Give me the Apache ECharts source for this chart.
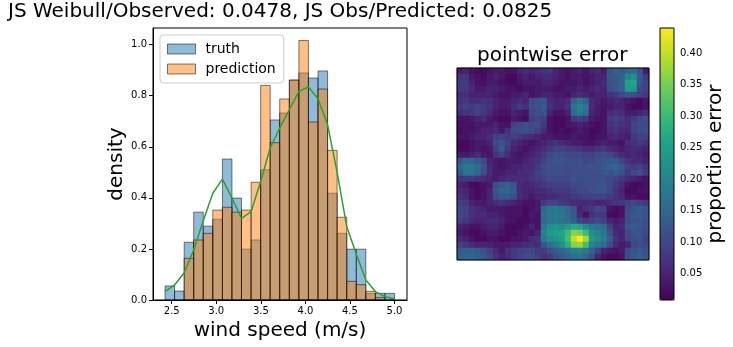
<!DOCTYPE html>
<html>
<head>
<meta charset="utf-8">
<script src="https://cdn.jsdelivr.net/npm/echarts@6/dist/echarts.min.js"></script>
<style>
html, body { margin: 0; padding: 0; background: #fff; }
#main { width: 733px; height: 347px; }
</style>
</head>
<body>
<div id="main"></div>
<script>
// histogram bin edges (m/s)
var binEdges = [2.425, 2.532, 2.640, 2.747, 2.854, 2.961, 3.069, 3.176, 3.283, 3.391, 3.498, 3.605,
    3.712, 3.820, 3.927, 4.034, 4.142, 4.249, 4.356, 4.464, 4.571, 4.678, 4.785, 4.893, 5.000];
// bar heights (density)
var truthDensity = [0.055, 0.035, 0.226, 0.344, 0.289, 0.316, 0.552, 0.399, 0.199, 0.235, 0.510, 0.705,
    0.732, 0.861, 0.889, 0.869, 0.897, 0.418, 0.261, 0.199, 0.199, 0.026, 0.026, 0.026];
var predDensity = [0, 0, 0.163, 0.235, 0.261, 0.352, 0.363, 0.344, 0.352, 0.461, 0.840, 0.616,
    0.787, 0.861, 1.016, 0.697, 0.826, 0.586, 0.324, 0.073, 0.060, 0.034, 0.010, 0];
// weibull fit, one value per bin edge
var weibullDensity = [0.033, 0.059, 0.107, 0.196, 0.310, 0.418, 0.473, 0.399, 0.320, 0.346, 0.464, 0.595,
    0.673, 0.745, 0.817, 0.834, 0.788, 0.686, 0.500, 0.287, 0.180, 0.078, 0.033, 0.013, 0.004];
var speedTicks = [2.5, 3.0, 3.5, 4.0, 4.5, 5.0];
var errorTicks = [0.05, 0.10, 0.15, 0.20, 0.25, 0.30, 0.35, 0.40];

// pointwise error, in hundredths, row 0 = top of the image
var errorRows = [
    [4, 5, 3, 2, 2, 3, 4, 4, 3, 3, 5, 6, 5, 6, 7, 8, 5, 4, 3, 4, 5, 3, 5, 6, 4, 12, 14, 13, 15, 16, 12, 4],
    [7, 8, 4, 3, 2, 4, 5, 4, 2, 2, 4, 5, 4, 5, 6, 6, 5, 4, 3, 4, 4, 3, 4, 5, 5, 13, 13, 14, 20, 22, 13, 8],
    [8, 8, 5, 3, 3, 4, 4, 3, 2, 2, 3, 4, 4, 4, 5, 5, 4, 3, 3, 3, 4, 3, 4, 5, 6, 12, 12, 14, 25, 26, 12, 9],
    [8, 8, 6, 4, 4, 5, 5, 4, 3, 3, 2, 3, 3, 4, 4, 4, 3, 3, 4, 4, 5, 4, 5, 6, 5, 11, 13, 14, 24, 24, 10, 9],
    [6, 7, 5, 5, 5, 5, 4, 3, 3, 4, 4, 5, 3, 4, 5, 5, 4, 4, 3, 5, 6, 5, 4, 5, 5, 7, 8, 10, 12, 11, 9, 8],
    [7, 8, 6, 6, 7, 7, 5, 4, 4, 5, 6, 5, 10, 11, 12, 6, 5, 5, 6, 14, 17, 14, 6, 5, 4, 5, 6, 5, 4, 3, 2, 3],
    [8, 9, 8, 9, 8, 7, 5, 4, 4, 6, 8, 7, 11, 12, 13, 7, 5, 5, 7, 17, 20, 17, 6, 4, 3, 4, 5, 5, 3, 2, 2, 3],
    [6, 7, 8, 9, 8, 6, 4, 3, 3, 5, 4, 3, 10, 11, 12, 5, 3, 3, 5, 16, 19, 16, 5, 4, 3, 6, 7, 6, 4, 4, 5, 6],
    [3, 3, 4, 5, 6, 4, 3, 2, 2, 4, 3, 2, 9, 10, 9, 3, 2, 2, 3, 8, 9, 8, 4, 3, 3, 8, 9, 8, 6, 8, 10, 11],
    [3, 3, 3, 4, 4, 4, 5, 3, 3, 9, 10, 11, 10, 11, 8, 3, 2, 2, 3, 4, 5, 4, 3, 2, 3, 7, 8, 7, 6, 9, 10, 10],
    [2, 3, 3, 4, 5, 5, 6, 4, 7, 10, 11, 11, 10, 9, 6, 3, 2, 3, 2, 3, 4, 3, 2, 2, 3, 6, 7, 6, 5, 9, 10, 11],
    [3, 3, 4, 5, 5, 6, 9, 9, 8, 9, 8, 7, 6, 5, 4, 4, 3, 3, 3, 4, 3, 3, 2, 3, 3, 5, 6, 5, 4, 8, 9, 9],
    [2, 2, 3, 4, 4, 5, 10, 12, 9, 6, 5, 4, 3, 4, 5, 6, 7, 6, 5, 4, 4, 3, 3, 4, 5, 4, 4, 3, 6, 7, 8, 7],
    [2, 2, 3, 4, 3, 4, 9, 13, 8, 5, 4, 3, 4, 5, 6, 8, 9, 9, 8, 8, 7, 6, 6, 7, 8, 6, 5, 4, 5, 6, 6, 5],
    [4, 4, 5, 6, 4, 3, 7, 9, 6, 4, 3, 4, 5, 6, 8, 10, 11, 11, 10, 10, 10, 9, 9, 10, 11, 10, 8, 6, 5, 6, 5, 4],
    [12, 15, 15, 13, 10, 5, 4, 3, 4, 4, 4, 5, 6, 7, 9, 11, 12, 12, 11, 11, 11, 10, 10, 11, 12, 13, 13, 9, 7, 6, 6, 5],
    [15, 18, 18, 16, 12, 6, 4, 3, 4, 5, 5, 6, 6, 8, 10, 11, 11, 11, 11, 11, 11, 11, 12, 12, 13, 14, 15, 13, 9, 8, 9, 7],
    [13, 17, 17, 15, 11, 6, 4, 4, 5, 5, 6, 6, 7, 9, 10, 11, 11, 11, 10, 11, 11, 11, 11, 11, 12, 12, 13, 11, 8, 10, 11, 8],
    [7, 8, 8, 7, 6, 5, 4, 5, 6, 6, 6, 6, 7, 8, 9, 10, 10, 10, 10, 11, 11, 11, 11, 11, 11, 10, 9, 8, 6, 5, 4, 3],
    [5, 4, 2, 2, 3, 4, 11, 13, 14, 12, 6, 5, 6, 7, 8, 9, 9, 9, 9, 10, 10, 11, 11, 12, 12, 10, 8, 6, 3, 2, 2, 3],
    [6, 5, 3, 2, 3, 5, 12, 15, 15, 13, 6, 5, 5, 6, 6, 7, 8, 8, 8, 9, 10, 10, 11, 12, 12, 10, 7, 5, 2, 2, 3, 3],
    [7, 6, 3, 2, 3, 5, 11, 13, 13, 11, 6, 5, 4, 5, 5, 6, 6, 7, 7, 8, 8, 9, 9, 9, 9, 8, 7, 6, 3, 3, 2, 2],
    [9, 8, 5, 4, 4, 5, 6, 7, 6, 5, 4, 3, 3, 4, 8, 9, 9, 8, 7, 6, 6, 6, 6, 5, 5, 6, 7, 8, 9, 10, 9, 8],
    [10, 9, 7, 6, 5, 4, 4, 4, 3, 3, 3, 2, 3, 4, 15, 17, 18, 17, 15, 12, 5, 7, 8, 10, 9, 3, 2, 3, 10, 12, 13, 12],
    [10, 9, 7, 6, 6, 5, 5, 4, 3, 3, 3, 2, 4, 3, 16, 18, 19, 18, 16, 13, 6, 3, 7, 8, 8, 2, 2, 3, 11, 13, 13, 12],
    [9, 8, 6, 5, 5, 6, 6, 5, 3, 3, 2, 2, 3, 3, 16, 17, 18, 17, 16, 13, 9, 8, 9, 10, 9, 5, 4, 5, 11, 12, 12, 11],
    [5, 4, 3, 3, 4, 5, 5, 4, 2, 2, 2, 3, 5, 3, 18, 22, 23, 22, 24, 27, 26, 22, 18, 17, 16, 9, 5, 6, 12, 13, 12, 11],
    [4, 3, 2, 2, 3, 4, 4, 3, 2, 2, 3, 4, 3, 5, 20, 24, 25, 26, 30, 36, 35, 30, 22, 20, 18, 12, 6, 5, 10, 12, 12, 10],
    [6, 5, 3, 2, 2, 3, 3, 2, 2, 3, 3, 4, 6, 7, 19, 22, 23, 25, 31, 40, 44, 38, 24, 21, 19, 14, 7, 5, 9, 11, 12, 9],
    [9, 8, 6, 5, 5, 5, 4, 4, 4, 5, 5, 6, 7, 6, 12, 16, 19, 22, 28, 36, 37, 31, 20, 18, 16, 11, 6, 4, 5, 10, 11, 10],
    [13, 14, 14, 13, 11, 9, 6, 4, 7, 8, 9, 9, 10, 8, 8, 11, 13, 15, 17, 19, 20, 18, 14, 9, 5, 4, 3, 4, 10, 12, 13, 11],
    [14, 15, 15, 14, 12, 10, 7, 5, 6, 8, 9, 10, 11, 9, 7, 8, 11, 13, 15, 16, 17, 15, 11, 5, 3, 2, 2, 3, 11, 13, 14, 12]
];
var errorMin = 0.008;
var errorMax = 0.44;

var viridis = ['#440154', '#482475', '#414487', '#355f8d', '#2a788e', '#21918c',
    '#22a884', '#44bf70', '#7ad151', '#bddf26', '#fde725'];

var FONT = 'DejaVu Sans';
var chart = echarts.init(document.getElementById('main'));

function barData(heights) {
    var out = [];
    for (var i = 0; i < heights.length; i++) {
        out.push([binEdges[i], binEdges[i + 1], heights[i]]);
    }
    return out;
}

function barRenderer(fill) {
    return function (params, api) {
        var h = api.value(2);
        if (!h) return;
        var p0 = api.coord([api.value(0), 0]);
        var p1 = api.coord([api.value(1), h]);
        return {
            type: 'rect',
            shape: { x: p0[0], y: p1[1], width: p1[0] - p0[0], height: p0[1] - p1[1] },
            style: { fill: fill, stroke: 'rgba(0,0,0,0.5)', lineWidth: 1 }
        };
    };
}

var weibullLine = [];
for (var i = 0; i < binEdges.length; i++) {
    weibullLine.push([binEdges[i], weibullDensity[i]]);
}

var heatData = [];
var nRows = errorRows.length;
var nCols = errorRows[0].length;
for (var r = 0; r < nRows; r++) {
    for (var c = 0; c < nCols; c++) {
        heatData.push([c, r, errorRows[r][c] / 100]);
    }
}
var colCats = [], rowCats = [];
for (var k = 0; k < nCols; k++) colCats.push(k);
for (var k = 0; k < nRows; k++) rowCats.push(k);

var blackLine = { lineStyle: { color: '#000', width: 1 } };

var option = {
    backgroundColor: '#fff',
    animation: false,
    title: [
        {
            text: 'JS Weibull/Observed: 0.0478, JS Obs/Predicted: 0.0825',
            left: 8, top: 2, padding: 0,
            textStyle: { fontFamily: FONT, fontSize: 20, fontWeight: 'normal', color: '#000' }
        },
        {
            text: 'pointwise error',
            left: 477, top: 46, padding: 0,
            textStyle: { fontFamily: FONT, fontSize: 20, fontWeight: 'normal', color: '#000' }
        }
    ],
    legend: {
        orient: 'vertical',
        left: 160, top: 35,
        padding: [6, 8, 6, 7],
        itemGap: 4,
        itemWidth: 28, itemHeight: 10,
        icon: 'rect',
        backgroundColor: 'rgba(255,255,255,0.8)',
        borderColor: '#cccccc', borderWidth: 1, borderRadius: 3,
        textStyle: { fontFamily: FONT, fontSize: 14, color: '#000', lineHeight: 16, padding: [0, 0, 0, 5] },
        data: [
            { name: 'truth', itemStyle: { color: 'rgba(31,119,180,0.5)', borderColor: 'rgba(0,0,0,0.5)', borderWidth: 1 } },
            { name: 'prediction', itemStyle: { color: 'rgba(255,127,14,0.5)', borderColor: 'rgba(0,0,0,0.5)', borderWidth: 1 } }
        ]
    },
    visualMap: {
        type: 'continuous',
        seriesIndex: 3,
        min: errorMin, max: errorMax,
        left: 660, top: 28,
        itemWidth: 14, itemHeight: 272,
        padding: 0,
        calculable: false,
        inRange: { color: viridis }
    },
    grid: [
        { left: 153, top: 28, width: 254, height: 272, show: true, borderColor: '#000', borderWidth: 1, z: 10 },
        { left: 457, top: 68, width: 192, height: 192, show: true, borderColor: '#000', borderWidth: 1, z: 10 },
        { left: 660, top: 28, width: 14, height: 272, show: true, borderColor: '#000', borderWidth: 1, z: 10 }
    ],
    xAxis: [
        {
            gridIndex: 0, type: 'value', min: 2.29, max: 5.14,
            splitLine: { show: false },
            axisLine: blackLine,
            axisTick: { customValues: speedTicks, length: 4, lineStyle: { color: '#000' } },
            axisLabel: {
                customValues: speedTicks, margin: 6,
                formatter: function (v) { return v.toFixed(1); },
                fontFamily: FONT, fontSize: 10, color: '#000'
            },
            name: 'wind speed (m/s)', nameLocation: 'middle', nameGap: 18,
            nameTextStyle: { fontFamily: FONT, fontSize: 20, color: '#000' }
        },
        { gridIndex: 1, type: 'category', data: colCats, show: false },
        { gridIndex: 2, type: 'value', min: 0, max: 1, show: false }
    ],
    yAxis: [
        {
            gridIndex: 0, type: 'value', min: 0, max: 1.065, interval: 0.2,
            splitLine: { show: false },
            axisLine: blackLine,
            axisTick: { show: true, length: 4, lineStyle: { color: '#000' } },
            axisLabel: {
                margin: 6, showMaxLabel: false,
                formatter: function (v) { return v.toFixed(1); },
                fontFamily: FONT, fontSize: 10, color: '#000'
            },
            name: 'density', nameLocation: 'middle', nameGap: 26,
            nameTextStyle: { fontFamily: FONT, fontSize: 20, color: '#000' }
        },
        { gridIndex: 1, type: 'category', data: rowCats, inverse: true, show: false },
        {
            gridIndex: 2, type: 'value', position: 'right', min: errorMin, max: errorMax,
            splitLine: { show: false },
            axisLine: { show: false },
            axisTick: { show: true, customValues: errorTicks, length: 4, lineStyle: { color: '#000' } },
            axisLabel: {
                customValues: errorTicks, margin: 6,
                formatter: function (v) { return v.toFixed(2); },
                fontFamily: FONT, fontSize: 10, color: '#000'
            },
            name: 'proportion error', nameLocation: 'middle', nameGap: 22, nameRotate: 90,
            nameTextStyle: { fontFamily: FONT, fontSize: 20, color: '#000' }
        }
    ],
    series: [
        {
            name: 'truth', type: 'custom', xAxisIndex: 0, yAxisIndex: 0,
            renderItem: barRenderer('rgba(31,119,180,0.5)'),
            itemStyle: { color: 'rgba(31,119,180,0.5)' },
            encode: { x: [0, 1], y: 2 },
            data: barData(truthDensity)
        },
        {
            name: 'prediction', type: 'custom', xAxisIndex: 0, yAxisIndex: 0,
            renderItem: barRenderer('rgba(255,127,14,0.5)'),
            itemStyle: { color: 'rgba(255,127,14,0.5)' },
            encode: { x: [0, 1], y: 2 },
            data: barData(predDensity)
        },
        {
            name: 'weibull', type: 'line', xAxisIndex: 0, yAxisIndex: 0,
            showSymbol: false, symbol: 'none',
            lineStyle: { color: '#2ca02c', width: 1.5 },
            itemStyle: { color: '#2ca02c' },
            z: 5,
            data: weibullLine
        },
        {
            name: 'error', type: 'heatmap', xAxisIndex: 1, yAxisIndex: 1,
            itemStyle: { borderWidth: 0 },
            data: heatData
        }
    ]
};

chart.setOption(option);
</script>
</body>
</html>
